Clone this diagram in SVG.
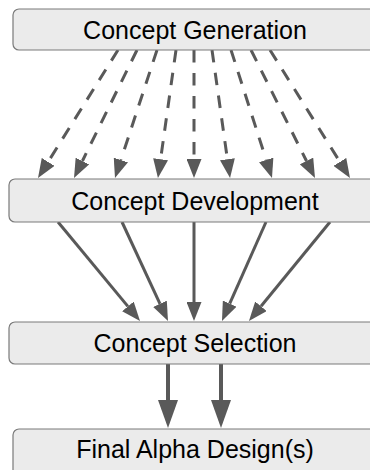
<svg xmlns="http://www.w3.org/2000/svg" width="370" height="470" viewBox="0 0 370 470">
  <style>
    .box { fill: #ebebeb; stroke: #7a7a7a; stroke-width: 1.2; }
    .label { font-family: "Liberation Sans", Arial, sans-serif; font-size: 25px; fill: #000; text-anchor: middle; }
    .dash { fill: none; stroke: #595959; stroke-width: 3; stroke-dasharray: 12.5 10.5; marker-end: url(#head); }
    .solid { fill: none; stroke: #595959; stroke-width: 3; marker-end: url(#head); }
    .thick { fill: none; stroke: #595959; stroke-width: 4; marker-end: url(#bighead); }
  </style>
  <defs>
    <marker id="head" markerUnits="userSpaceOnUse" markerWidth="19" markerHeight="15" refX="0" refY="7.5" orient="auto">
      <path d="M0,0 L19,7.5 L0,15 Z" fill="#595959"/>
    </marker>
    <marker id="bighead" markerUnits="userSpaceOnUse" markerWidth="28" markerHeight="20" refX="0" refY="10" orient="auto">
      <path d="M0,0 L28,10 L0,20 Z" fill="#595959"/>
    </marker>
  </defs>

  <g id="connectors">
    <!-- generation to development (dashed fan) -->
    <path class="dash" d="M118,50 L48.1,161.9"/>
    <path class="dash" d="M137,50 L82.4,161.0"/>
    <path class="dash" d="M157,50 L120.9,160.0"/>
    <path class="dash" d="M176,50 L160.6,159.2"/>
    <path class="dash" d="M194,50 L194,159"/>
    <path class="dash" d="M212,50 L227.4,159.2"/>
    <path class="dash" d="M231,50 L266.2,159.9"/>
    <path class="dash" d="M251,50 L306.5,161.0"/>
    <path class="dash" d="M270,50 L339.9,161.9"/>
    <!-- development to selection (converging) -->
    <path class="solid" d="M58,222 L127.9,306.4"/>
    <path class="solid" d="M122,222 L160.0,303.8"/>
    <path class="solid" d="M194,222 L194,302"/>
    <path class="solid" d="M266,222 L229.7,303.6"/>
    <path class="solid" d="M330,222 L261.0,306.3"/>
    <!-- selection to final designs -->
    <path class="thick" d="M168,364 L168,400"/>
    <path class="thick" d="M221,364 L221,400"/>
  </g>

  <g id="concept-generation">
    <rect class="box" x="13" y="9" width="364" height="41" rx="6"/>
    <text class="label" x="195" y="38.5">Concept Generation</text>
  </g>
  <g id="concept-development">
    <rect class="box" x="9" y="179" width="372" height="43" rx="6"/>
    <text class="label" x="195" y="209.5">Concept Development</text>
  </g>
  <g id="concept-selection">
    <rect class="box" x="9" y="322" width="372" height="42" rx="6"/>
    <text class="label" x="195" y="352">Concept Selection</text>
  </g>
  <g id="final-alpha-designs">
    <rect class="box" x="13" y="429" width="364" height="50" rx="6"/>
    <text class="label" x="195" y="458">Final Alpha Design(s)</text>
  </g>
</svg>
